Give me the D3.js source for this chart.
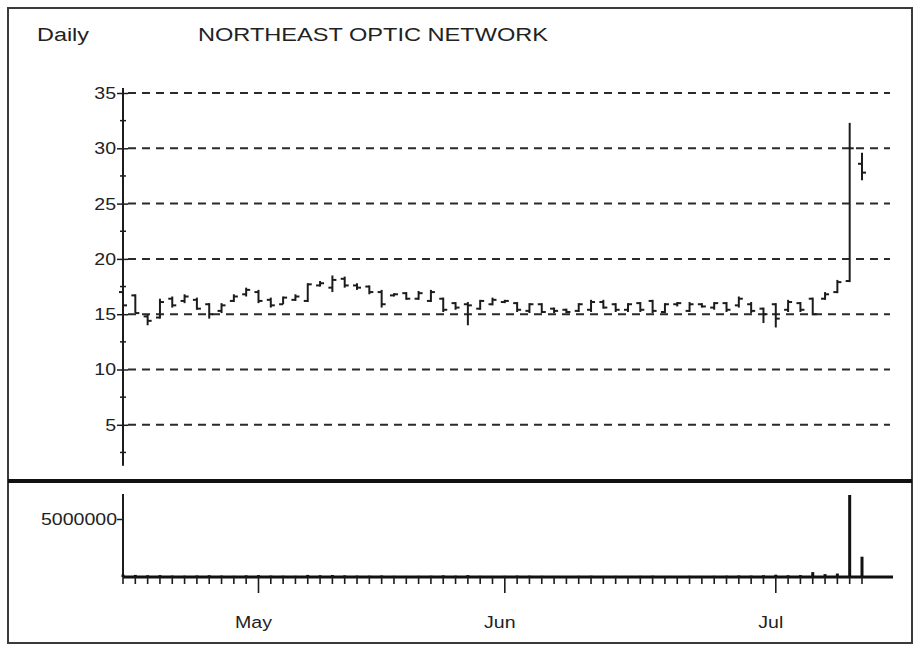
<!DOCTYPE html>
<html><head><meta charset="utf-8">
<script src="https://cdn.jsdelivr.net/npm/d3@7"></script>
<style>
html,body{margin:0;padding:0;background:#fff;}
svg{display:block;}
text{font-family:"Liberation Sans",Arial,sans-serif;fill:#222;}
</style></head>
<body>
<svg id="chart" width="919" height="649"></svg>
<script>
// ---------- DATA ----------
const dates = [
 "1999-04-16","1999-04-19","1999-04-20","1999-04-21","1999-04-22","1999-04-23","1999-04-26","1999-04-27","1999-04-28","1999-04-29","1999-04-30",
 "1999-05-03","1999-05-04","1999-05-05","1999-05-06","1999-05-07","1999-05-10","1999-05-11","1999-05-12","1999-05-13","1999-05-14",
 "1999-05-17","1999-05-18","1999-05-19","1999-05-20","1999-05-21","1999-05-24","1999-05-25","1999-05-26","1999-05-27","1999-05-28",
 "1999-06-01","1999-06-02","1999-06-03","1999-06-04","1999-06-07","1999-06-08","1999-06-09","1999-06-10","1999-06-11",
 "1999-06-14","1999-06-15","1999-06-16","1999-06-17","1999-06-18","1999-06-21","1999-06-22","1999-06-23","1999-06-24","1999-06-25",
 "1999-06-28","1999-06-29","1999-06-30",
 "1999-07-01","1999-07-02","1999-07-06","1999-07-07","1999-07-08","1999-07-09","1999-07-12","1999-07-13"
];
const high  = [17.2,16.8,15.0,16.4,16.6,16.8,16.5,16.0,16.0,16.8,17.4,17.2,16.5,16.6,16.8,17.8,18.0,18.5,18.4,17.8,17.6,
               17.2,16.9,17.0,17.1,17.2,16.5,16.1,16.1,16.3,16.5,16.3,16.1,16.0,16.0,15.6,15.5,16.0,16.3,16.3,16.0,
               16.0,16.1,16.3,16.0,16.1,16.1,16.0,16.1,16.1,16.6,16.1,15.6,16.0,16.3,16.1,16.5,17.0,18.1,32.3,29.6];
const low   = [14.9,15.1,14.0,14.6,15.6,16.0,15.4,14.6,15.1,16.1,16.6,16.0,15.6,15.9,16.2,16.1,17.5,17.0,17.4,17.2,16.8,
               15.6,16.6,16.3,16.3,16.1,15.2,15.4,14.0,15.4,15.8,16.0,15.2,15.1,15.1,15.1,15.1,15.2,15.2,15.5,15.2,
               15.2,15.2,15.1,15.1,15.7,15.2,15.6,15.4,15.2,15.6,15.1,14.2,13.8,15.2,15.2,14.9,16.3,16.9,17.9,27.1];
const open  = [17.0,16.7,14.8,14.7,16.4,16.2,16.3,15.9,15.3,16.2,16.8,17.0,16.3,15.9,16.3,16.2,17.6,17.4,18.2,17.6,17.5,
               17.0,16.7,16.9,16.4,16.2,16.4,16.0,15.9,15.5,15.9,16.1,16.0,15.3,15.9,15.5,15.4,15.3,15.4,16.1,15.9,
               15.4,16.0,16.2,15.2,15.9,15.3,15.9,15.6,16.0,15.8,15.9,15.5,15.9,15.4,16.0,16.4,16.4,17.0,18.0,28.6];
const close = [15.8,15.1,14.4,16.1,15.8,16.6,15.5,15.0,15.8,16.6,17.2,16.2,15.8,16.5,16.6,17.7,17.8,18.1,17.6,17.4,17.0,
               15.9,16.8,16.4,16.9,17.0,15.4,15.6,15.8,16.2,16.3,16.2,15.4,15.9,15.2,15.3,15.2,15.9,16.1,15.6,15.4,
               15.9,15.4,15.3,15.9,16.0,15.9,15.7,16.0,15.4,16.4,15.3,15.0,14.6,16.1,15.4,15.0,16.8,17.9,30.0,27.8];
const volume = [210000,180000,150000,160000,120000,110000,130000,150000,120000,100000,140000,160000,120000,110000,100000,180000,150000,170000,140000,120000,110000,
                130000,100000,90000,100000,110000,140000,110000,160000,100000,90000,100000,120000,110000,100000,90000,80000,100000,110000,90000,100000,
                90000,100000,110000,90000,80000,100000,90000,100000,110000,130000,120000,150000,200000,150000,160000,420000,250000,300000,7070000,1750000];
const priceTicks = [5,10,15,20,25,30,35];
const priceMinorTicks = [2.5,7.5,12.5,17.5,22.5,27.5,32.5];
const volumeTicks = [5000000];
const monthStarts = ["1999-05-03","1999-06-01","1999-07-01"];
const monthLabels = ["May","Jun","Jul"];
const titleLeft = "Daily";
const titleMain = "NORTHEAST OPTIC NETWORK";

// ---------- DRAW ----------
const svg = d3.select("#chart");
const ink = "#1c1c1c";
const SX = 1.15; // horizontal stretch of the reference lettering

svg.append("rect").attr("x",8).attr("y",8).attr("width",904).attr("height",635)
  .attr("fill","#fff").attr("stroke","#3a3a3a").attr("stroke-width",2);

svg.append("text").attr("x",37).attr("y",41).attr("font-size",18)
  .attr("textLength",52).attr("lengthAdjust","spacingAndGlyphs").text(titleLeft);
svg.append("text").attr("x",198).attr("y",41).attr("font-size",18)
  .attr("textLength",350).attr("lengthAdjust","spacingAndGlyphs").text(titleMain);

const x = d3.scalePoint().domain(dates).range([123, 862]);
const y = d3.scaleLinear().domain([0,35]).range([480.1, 93]);
const yv = d3.scaleLinear().domain([0,5000000]).range([577, 519]);

// grid
svg.append("g").selectAll("line").data(priceTicks).join("line")
  .attr("x1",128).attr("x2",890).attr("y1",d=>y(d)).attr("y2",d=>y(d))
  .attr("stroke","#2a2a2a").attr("stroke-width",2).attr("stroke-dasharray","8,6");

// price axis
const ya = svg.append("g").attr("transform","translate(123,0)")
  .call(d3.axisLeft(y).tickValues(priceTicks).tickSize(7).tickPadding(5));
ya.select(".domain").remove();
ya.selectAll(".tick line").attr("x2",-6).attr("x1",5).attr("stroke",ink).attr("stroke-width",1.5);
ya.selectAll(".tick text").attr("font-size",17).attr("font-family","Liberation Sans, Arial, sans-serif")
  .attr("fill","#222").attr("x",-7/SX).attr("transform",`scale(${SX},1)`);
svg.append("line").attr("x1",123).attr("x2",123).attr("y1",y(35.45)).attr("y2",y(1.3))
  .attr("stroke",ink).attr("stroke-width",2);
svg.append("g").selectAll("line").data(priceMinorTicks).join("line")
  .attr("x1",120).attr("x2",126).attr("y1",d=>y(d)).attr("y2",d=>y(d))
  .attr("stroke",ink).attr("stroke-width",1.5);

// OHLC bars
const bars = svg.append("g").attr("stroke",ink).attr("stroke-width",2);
dates.forEach((d,i)=>{
  const cx = x(d);
  bars.append("line").attr("x1",cx).attr("x2",cx).attr("y1",y(high[i])).attr("y2",y(low[i]));
  bars.append("line").attr("x1",cx-4).attr("x2",cx).attr("y1",y(open[i])).attr("y2",y(open[i]));
  bars.append("line").attr("x1",cx).attr("x2",cx+4).attr("y1",y(close[i])).attr("y2",y(close[i]));
});

// separator
svg.append("line").attr("x1",8).attr("x2",912).attr("y1",481).attr("y2",481)
  .attr("stroke","#111").attr("stroke-width",4);

// volume panel
svg.append("line").attr("x1",123).attr("x2",123).attr("y1",494).attr("y2",yv(0))
  .attr("stroke",ink).attr("stroke-width",2);
const va = svg.append("g").attr("transform","translate(123,0)")
  .call(d3.axisLeft(yv).tickValues(volumeTicks).tickSize(6).tickPadding(2).tickFormat(d3.format("d")));
va.select(".domain").remove();
va.selectAll(".tick line").attr("stroke",ink).attr("stroke-width",1.5);
va.selectAll(".tick text").attr("font-size",17).attr("font-family","Liberation Sans, Arial, sans-serif")
  .attr("fill","#222").attr("x",-6/SX).attr("transform",`scale(${SX},1)`);

svg.append("g").selectAll("line").data(dates).join("line")
  .attr("x1",d=>x(d)).attr("x2",d=>x(d)).attr("y1",d=>yv(volume[dates.indexOf(d)])).attr("y2",yv(0))
  .attr("stroke","#111").attr("stroke-width",3);

// x axis
svg.append("line").attr("x1",123).attr("x2",893).attr("y1",yv(0)).attr("y2",yv(0))
  .attr("stroke","#111").attr("stroke-width",3);
svg.append("g").selectAll("line").data(dates).join("line")
  .attr("x1",d=>x(d)).attr("x2",d=>x(d)).attr("y1",yv(0)).attr("y2",d=>monthStarts.includes(d)?593:584)
  .attr("stroke",ink).attr("stroke-width",1.6);
svg.append("g").selectAll("text").data(monthStarts).join("text")
  .attr("transform",d=>`translate(${x(d)-5},628) scale(${SX},1)`)
  .attr("text-anchor","middle").attr("font-size",17)
  .text((d,i)=>monthLabels[i]);
</script>
</body></html>
